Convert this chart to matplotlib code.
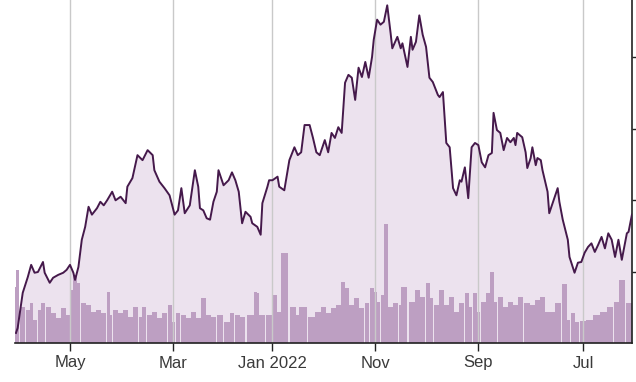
import numpy as np
import matplotlib
matplotlib.use("Agg")
import matplotlib.pyplot as plt

plt.rcParams['font.family'] = ['Liberation Sans', 'DejaVu Sans']

start = np.datetime64('2021-06-02')

# price series: days since start, price
price_days = [0, 2, 3, 6, 8, 10, 12, 14, 16, 18, 20, 22, 24, 26, 28, 30, 32, 34, 37, 38,
              41, 43, 44, 47, 49, 50, 53, 54, 56, 57, 59, 60, 62, 63, 65, 68, 69, 70, 72, 74,
              76, 78, 80, 82, 83, 85, 87, 89, 91, 93, 95, 97, 99, 101, 102, 104, 106, 108, 110, 112,
              114, 115, 118, 120, 122, 124, 126, 128, 130, 131, 133, 136, 137, 139, 142, 143, 145, 147, 149, 151,
              153, 154, 156, 158, 160, 162, 164, 166, 168, 170, 172, 174, 176, 178, 180, 182, 185, 187, 189, 191,
              194, 196, 198, 200, 203, 206, 209, 210, 213, 215, 216, 219, 220, 222, 225, 226, 229, 231, 233, 235,
              237, 239, 242, 245, 246, 248, 250, 252, 254, 256, 257, 259, 262, 265, 267, 269, 271, 274, 277, 280,
              283, 284, 287, 290, 293, 296, 299, 300, 303, 306, 308, 311, 313, 315, 317, 320, 322, 324, 326, 328,
              330, 331, 333, 335, 337, 340, 343, 345, 348, 349, 352, 354, 356, 358, 361, 364, 365]
prices = [28.0, 25.6, 25.4, 21.7, 24.5, 22.1, 24.5, 25.4, 23.3, 24.9, 23.8, 22.8, 24.0, 23.5, 22.7, 21.4, 21.3, 19.9, 22.1, 24.5,
          27.3, 29.8, 31.7, 29.6, 28.2, 31.2, 34.2, 35.6, 35.9, 34.9, 37.4, 35.9, 34.5, 36.7, 38.8, 39.4, 37.7, 38.7, 38.1, 38.7,
          37.0, 39.4, 39.8, 42.2, 36.6, 36.3, 34.6, 35.3, 37.7, 38.0, 37.4, 30.3, 34.6, 32.6, 32.8, 30.7, 31.7, 37.4, 38.0, 45.1,
          44.4, 44.7, 46.5, 47.1, 51.4, 53.1, 55.8, 52.1, 51.0, 52.8, 48.6, 51.9, 51.2, 52.8, 51.2, 53.3, 57.2, 54.9, 54.5, 55.2,
          52.4, 50.0, 47.1, 49.3, 47.2, 48.5, 44.0, 47.1, 47.5, 46.4, 39.4, 40.2, 38.7, 39.4, 36.7, 38.4, 36.3, 36.7, 38.7, 40.5,
          40.5, 36.7, 36.3, 37.4, 35.6, 31.4, 31.9, 33.3, 32.8, 32.8, 31.9, 29.6, 25.2, 26.3, 26.8, 27.7, 28.4, 26.8, 31.2, 32.8,
          33.9, 32.8, 32.1, 34.2, 31.2, 29.8, 27.3, 27.5, 28.6, 28.9, 31.9, 34.2, 29.3, 28.2, 31.7, 28.6, 28.0, 30.7, 31.7, 32.6,
          34.2, 36.3, 37.0, 35.6, 36.3, 33.1, 31.9, 29.6, 30.5, 30.0, 31.2, 30.0, 29.3, 29.8, 28.9, 28.0, 29.1, 26.3, 24.5, 20.7,
          18.9, 19.9, 21.0, 20.3, 19.9, 19.6, 19.2, 18.5, 19.9, 21.4, 20.0, 19.9, 21.0, 19.3, 17.1, 12.2, 11.5]

# volume series: days since start, volume (millions)
vol_days = [1, 6, 9, 13, 17, 21, 25, 29, 33, 35, 38, 40, 44, 47, 50, 53, 56, 59, 62, 66,
            69, 72, 75, 78, 81, 83, 85, 88, 91, 93, 96, 98, 101, 104, 107, 110, 113, 116, 119, 121,
            124, 127, 130, 135, 137, 140, 143, 146, 148, 150, 152, 154, 157, 160, 163, 166, 169, 171, 174, 177,
            180, 183, 186, 190, 195, 199, 201, 206, 209, 212, 215, 219, 222, 223, 226, 231, 234, 237, 240, 244,
            248, 251, 254, 257, 260, 263, 266, 269, 272, 274, 277, 280, 283, 286, 289, 291, 294, 297, 300, 303,
            306, 309, 310, 313, 316, 319, 322, 325, 328, 330, 332, 334, 337, 340, 343, 346, 349, 351, 354, 356,
            358, 361, 364, 365]
volumes = [4.0, 6.3, 4.1, 3.6, 3.1, 2.8, 2.3, 2.2, 2.1, 3.0, 2.3, 5.9, 4.0, 3.1, 3.1, 4.6, 4.3, 3.8, 4.0, 4.6,
           3.8, 4.1, 3.6, 4.6, 4.1, 7.1, 5.0, 4.1, 3.1, 5.0, 3.6, 5.0, 4.0, 3.1, 4.6, 3.8, 5.3, 3.8, 4.5, 6.0,
           4.6, 5.3, 4.1, 5.6, 3.8, 4.0, 3.6, 11.9, 4.8, 4.1, 5.1, 5.5, 4.0, 3.5, 4.5, 3.8, 5.5, 6.1, 3.8, 3.5,
           3.0, 3.6, 3.1, 2.6, 3.6, 2.8, 3.6, 9.0, 3.1, 4.8, 2.8, 2.8, 5.0, 5.1, 2.8, 2.6, 2.8, 3.0, 2.1, 2.8,
           2.6, 2.8, 4.5, 2.5, 3.1, 2.5, 2.8, 3.0, 2.1, 3.8, 3.0, 2.5, 3.1, 2.8, 3.6, 2.6, 3.6, 2.6, 3.3, 3.0,
           3.3, 2.8, 5.1, 3.0, 3.3, 3.1, 3.8, 4.0, 6.0, 6.8, 5.3, 2.8, 3.5, 2.5, 3.0, 3.6, 4.0, 3.3, 2.3, 4.0,
           3.3, 3.6, 7.3, 5.6]

tick_dates = ['2021-07-01', '2021-09-01', '2021-11-01', '2022-01-01', '2022-03-01', '2022-05-01']
tick_labels = ['Jul', 'Sep', 'Nov', 'Jan 2022', 'Mar', 'May']
price_ticks = [20, 30, 40, 50]

dates = start + np.array(price_days).astype('timedelta64[D]')
vdates = start + np.array(vol_days).astype('timedelta64[D]')
tdates = np.array(tick_dates, dtype='datetime64[D]')

LINE = '#45194b'
FILL = '#ece2ee'
BAR = '#bd9fc2'
GRID = '#c9c9c9'

fig = plt.figure(figsize=(6.36, 3.82), dpi=100)
ax = fig.add_axes([15/636, 39/382, 617/636, 343/382])
ymin, ymax = 10.1, 57.94
x0 = start.astype('datetime64[h]') - np.timedelta64(1, 'h')
x1 = start.astype('datetime64[h]') + np.timedelta64(int(365.6 * 24), 'h')

ax.fill_between(dates, prices, ymin, color=FILL, lw=0, zorder=1)
ax.set_ylim(ymin, ymax)
ax.set_xlim(x1, x0)
for s in ax.spines.values():
    s.set_visible(False)
ax.set_yticks([])
ax.set_xticks(tdates)
ax.set_xticklabels(tick_labels, fontsize=12, color='#3a3a3a')
ax.tick_params(axis='x', length=6, width=1, color='#222222', pad=3)

# volume layer
axv = ax.twinx()
widths = np.gradient(np.array(vol_days, dtype=float)) * 0.97
axv.bar(vdates, volumes, width=widths, color=BAR, lw=0, align='center')
axv.set_ylim(0, 34.3)
axv.set_yticks([])
for s in axv.spines.values():
    s.set_visible(False)

# line layer
axl = ax.twinx()
axl.set_ylim(ymin, ymax)
for d in tdates:
    axl.axvline(d, color=GRID, lw=1, zorder=1)
axl.plot(dates, prices, color=LINE, lw=1.4, zorder=3, solid_joinstyle='round')
axl.set_xlim(x1, x0)
axl.set_yticks(price_ticks)
axl.set_yticklabels([''] * len(price_ticks))
axl.tick_params(axis='y', length=5, width=1, color='#222222', direction='out')
axl.spines['top'].set_visible(False)
axl.spines['left'].set_visible(False)
axl.spines['right'].set_color('#222222')
axl.spines['bottom'].set_color('#222222')
axl.spines['right'].set_linewidth(1.2)
axl.spines['bottom'].set_linewidth(1.2)

fig.savefig('out.png', dpi=100)
